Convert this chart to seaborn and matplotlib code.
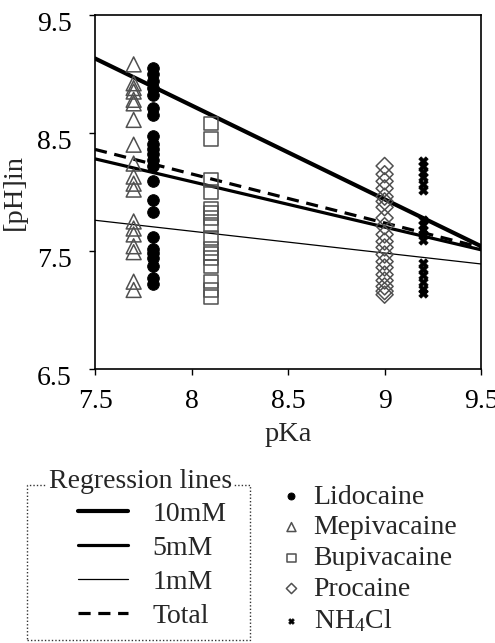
import numpy as np
import matplotlib
matplotlib.use("Agg")
import matplotlib.pyplot as plt
from matplotlib.patches import Rectangle
from matplotlib.transforms import ScaledTranslation
import seaborn as sns

# ── Data ──────────────────────────────────────────────────────
pka_lido, pka_mepi, pka_bupi, pka_proc, pka_nh4 = 7.8, 7.7, 8.1, 9.0, 9.2

lido_ph = [9.05, 9.0, 8.94, 8.88, 8.82, 8.71, 8.65, 8.47, 8.41, 8.36, 8.32, 8.27,
           8.22, 8.09, 7.93, 7.83, 7.62, 7.52, 7.48, 7.44, 7.37, 7.27, 7.22]
mepi_ph = [9.08, 8.92, 8.88, 8.85, 8.78, 8.75, 8.61, 8.40, 8.24, 8.13, 8.07, 8.02,
           7.75, 7.69, 7.64, 7.54, 7.49, 7.24, 7.17]
bupi_ph = [8.58, 8.45, 8.10, 8.00, 7.86, 7.82, 7.78, 7.72, 7.61, 7.52, 7.48, 7.44,
           7.37, 7.24, 7.17, 7.11]
proc_ph = [8.22, 8.15, 8.09, 8.03, 7.96, 7.92, 7.87, 7.78, 7.71, 7.64, 7.58, 7.53,
           7.47, 7.41, 7.36, 7.30, 7.25, 7.20, 7.16, 7.13]
nh4_ph = [8.26, 8.22, 8.17, 8.13, 8.07, 8.02, 7.76, 7.72, 7.68, 7.64, 7.59, 7.40,
          7.35, 7.30, 7.24, 7.18, 7.14]

# regression lines, pH at both ends of the pKa range
line_pka = [7.5, 9.5]
ph_10mM = [9.13, 7.54]
ph_5mM = [8.28, 7.51]
ph_1mM = [7.76, 7.39]
ph_total = [8.36, 7.53]

x_ticks = [7.5, 8, 8.5, 9, 9.5]
x_ticklabels = ['7.5', '8', '8.5', '9', '9.5']
y_ticks = [6.5, 7.5, 8.5, 9.5]
y_ticklabels = ['6.5', '7.5', '8.5', '9.5']

# ── Style ─────────────────────────────────────────────────────
sns.set_style("ticks")
plt.rcParams['font.family'] = ['Liberation Serif', 'DejaVu Serif']
plt.rcParams['mathtext.fontset'] = 'custom'
plt.rcParams['mathtext.rm'] = 'Liberation Serif'
plt.rcParams['mathtext.default'] = 'regular'

fig = plt.figure(figsize=(4.95, 6.43), dpi=100)
ax = fig.add_axes([0.192, 0.426, 0.780, 0.551])

# ── Regression lines ──────────────────────────────────────────
sns.lineplot(x=line_pka, y=ph_10mM, color='black', lw=3.0, ax=ax, legend=False, label='10mM')
sns.lineplot(x=line_pka, y=ph_5mM, color='black', lw=2.3, ax=ax, legend=False, label='5mM')
sns.lineplot(x=line_pka, y=ph_1mM, color='black', lw=0.9, ax=ax, legend=False, label='1mM')
sns.lineplot(x=line_pka, y=ph_total, color='black', lw=2.3, linestyle=(0, (3.8, 2.4)),
             ax=ax, legend=False, label='Total')

# ── Points ────────────────────────────────────────────────────
grey = '#505050'
sns.scatterplot(x=[pka_lido] * len(lido_ph), y=lido_ph, marker='o', s=70, color='black',
                edgecolor='black', ax=ax, legend=False, label='Lidocaine', zorder=3)
sns.scatterplot(x=[pka_mepi] * len(mepi_ph), y=mepi_ph, marker='^', s=115, facecolor='none',
                edgecolor=grey, linewidth=1.1, ax=ax, legend=False, label='Mepivacaine', zorder=3)
sns.scatterplot(x=[pka_bupi] * len(bupi_ph), y=bupi_ph, marker='s', s=95, facecolor='none',
                edgecolor=grey, linewidth=1.1, ax=ax, legend=False, label='Bupivacaine', zorder=3)
sns.scatterplot(x=[pka_proc] * len(proc_ph), y=proc_ph, marker='D', s=75, facecolor='none',
                edgecolor=grey, linewidth=1.1, ax=ax, legend=False, label='Procaine', zorder=3)
sns.scatterplot(x=[pka_nh4] * len(nh4_ph), y=nh4_ph, marker='X', s=45, color='black',
                edgecolor='black', ax=ax, legend=False, label='NH$_4$Cl', zorder=3)

# ── Axes ──────────────────────────────────────────────────────
ax.set_xlim(7.5, 9.5)
ax.set_ylim(6.5, 9.5)
ax.set_xticks(x_ticks)
ax.set_xticklabels(x_ticklabels)
ax.set_yticks(y_ticks)
ax.set_yticklabels(y_ticklabels)
ax.tick_params(axis='x', direction='out', length=4, width=1, pad=10, labelsize=20, colors='black')
ax.tick_params(axis='y', direction='out', length=4, width=1, pad=13, labelsize=20, colors='black')
# y labels sit a little below their ticks, as in the original
shift = ScaledTranslation(0, -4.5 / 72, fig.dpi_scale_trans)
for lab in ax.get_yticklabels():
    lab.set_transform(lab.get_transform() + shift)
for sp in ax.spines.values():
    sp.set_visible(True)
    sp.set_color('black')
    sp.set_linewidth(1.2)
ax.set_xlabel('pKa', fontsize=20.5, labelpad=6)
ax.set_ylabel('[pH]in', fontsize=20.5, labelpad=7)

# ── Legends ───────────────────────────────────────────────────
handles, labels = ax.get_legend_handles_labels()
fig.legend(handles[:4], labels[:4], loc='upper left', bbox_to_anchor=(0.157, 0.220),
           frameon=False, fontsize=20, borderpad=0, borderaxespad=0,
           handlelength=1.8, handletextpad=0.9, labelspacing=0.31)
fig.legend(handles[4:], labels[4:], loc='upper left', bbox_to_anchor=(0.572, 0.247),
           frameon=False, fontsize=20, borderpad=0, borderaxespad=0,
           handlelength=0.6, handletextpad=0.5, labelspacing=0.19, markerscale=0.6)

# dotted box around the regression-line legend, title sits on its top edge
fig.add_artist(Rectangle((0.0545, 0.0047), 0.4505, 0.241, transform=fig.transFigure,
                         fill=False, edgecolor='#333333', linestyle=(0, (1, 1.5)),
                         linewidth=1.0, zorder=-1))
fig.text(0.283, 1 - 482 / 643, 'Regression lines', ha='center', va='center', fontsize=20,
         bbox=dict(facecolor='white', edgecolor='none', pad=1))

fig.savefig('out.png', dpi=100)
plt.close()
